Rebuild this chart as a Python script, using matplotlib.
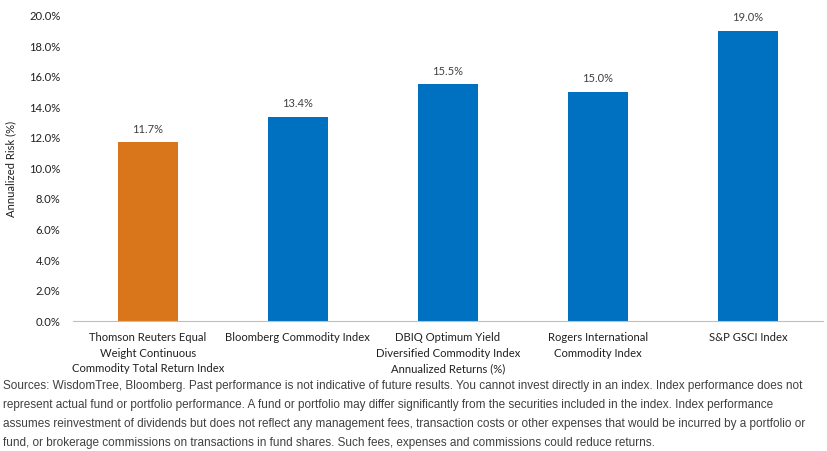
import matplotlib.pyplot as plt
from matplotlib.ticker import FuncFormatter

categories = ["Thomson Reuters Equal\nWeight Continuous\nCommodity Total Return Index",
              "Bloomberg Commodity Index",
              "DBIQ Optimum Yield\nDiversified Commodity Index\nAnnualized Returns (%)",
              "Rogers International\nCommodity Index",
              "S&P GSCI Index"]
risk = [11.7, 13.4, 15.5, 15.0, 19.0]
bar_colors = ["#D9761C", "#0070C0", "#0070C0", "#0070C0", "#0070C0"]

note = ("Sources: WisdomTree, Bloomberg. Past performance is not indicative of future results. You cannot invest directly in an index. Index performance does not\n"
        "represent actual fund or portfolio performance. A fund or portfolio may differ significantly from the securities included in the index. Index performance\n"
        "assumes reinvestment of dividends but does not reflect any management fees, transaction costs or other expenses that would be incurred by a portfolio or\n"
        "fund, or brokerage commissions on transactions in fund shares. Such fees, expenses and commissions could reduce returns.")

plt.rcParams['font.family'] = ['Lato', 'DejaVu Sans']

fig = plt.figure(figsize=(8.28, 4.51), dpi=100)
ax = fig.add_axes([0.088, 0.288, 0.906, 0.677])

x = range(len(categories))
bars = ax.bar(x, risk, width=0.4, color=bar_colors)
for b, v in zip(bars, risk):
    ax.text(b.get_x() + b.get_width() / 2, v + 0.5, f"{v:.1f}%", ha="center",
            va="bottom", fontsize=8, color="#404040")

ax.set_xlim(-0.5, len(categories) - 0.5)
ax.set_ylim(0, 20)
ax.set_yticks([i * 2 for i in range(11)])
ax.yaxis.set_major_formatter(FuncFormatter(lambda v, p: f"{v:.1f}%"))
ax.set_xticks(list(x))
ax.set_xticklabels(categories, fontsize=8.1, color="#202020", linespacing=1.5)
ax.tick_params(axis="y", labelsize=8.1, length=0, pad=9, labelcolor="#202020")
ax.tick_params(axis="x", length=0, pad=8)
for s in ["top", "right", "left"]:
    ax.spines[s].set_visible(False)
ax.spines["bottom"].set_color("#BFBFBF")
ax.set_ylabel("Annualized Risk (%)", fontsize=8.1, color="#202020", labelpad=9)

fig.text(0.004, 0.157, note, fontsize=8.5, color="#404040", va="top", ha="left",
         linespacing=1.78, family=['Liberation Sans Narrow', 'Liberation Sans', 'DejaVu Sans'])

fig.savefig("out.png", dpi=100)
